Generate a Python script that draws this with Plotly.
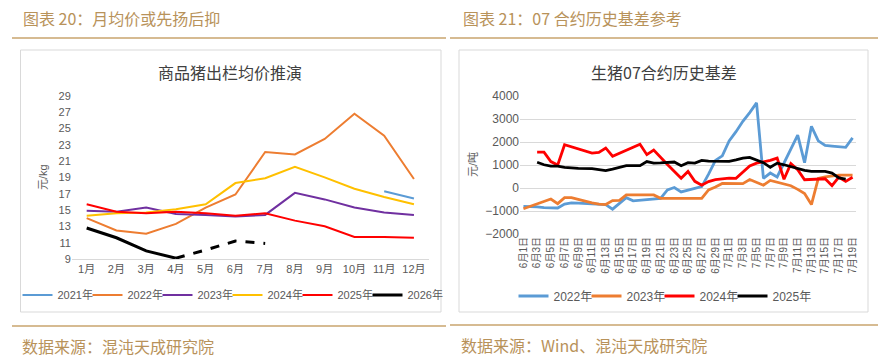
import plotly.graph_objects as go

W, H = 892, 360
FONT = "Liberation Sans, Noto Sans CJK SC, sans-serif"
CJK = "Noto Sans CJK SC, sans-serif"
GOLD = "#b8925a"

# ---------------- Left chart data ----------------
months = ["1月", "2月", "3月", "4月", "5月", "6月", "7月", "8月", "9月", "10月", "11月", "12月"]
y2021 = [None, None, None, None, None, None, None, None, None, None, 17.3, 16.4]
y2022 = [14.0, 12.5, 12.1, 13.3, 15.3, 16.9, 22.1, 21.8, 23.7, 26.8, 24.1, 18.8]
y2023 = [14.9, 14.8, 15.3, 14.5, 14.4, 14.2, 14.4, 17.1, 16.3, 15.3, 14.7, 14.4]
y2024 = [14.3, 14.6, 14.7, 15.1, 15.7, 18.3, 18.9, 20.3, 19.0, 17.6, 16.6, 15.7]
y2025 = [15.7, 14.8, 14.6, 14.8, 14.6, 14.3, 14.6, 13.7, 13.0, 11.7, 11.7, 11.6]
y2026_actual = [12.8, 11.6, 10.0, 9.1]
y2026_forecast_months = ["4月", "5月", "6月", "7月"]
y2026_forecast = [9.1, 10.1, 11.2, 10.9]
left_yticks = [9, 11, 13, 15, 17, 19, 21, 23, 25, 27, 29]

# ---------------- Right chart data ----------------
dates = [f"6月{d}日" for d in range(1, 31)] + [f"7月{d}日" for d in range(1, 20)]
b2022 = [-800, -800, -820, -850, -860, -870, -700, -650, -660, -680,
         -700, -720, -720, -920, -650, -420, -560, -540, -520, -500,
         -450, -80, 20, -170, -100, -20, 60, 600, 1200, 1400,
         2050, 2450, 2900, 3280, 3700, 420, 650, 480, None, None,
         2300, 1100, 2680, 2050, 1850, 1820, 1800, 1770, 2180]
b2023 = [-900, -800, -700, -600, -480, -680, -420, -420, -500, -580,
         -650, -700, -720, -550, -540, -300, -300, -300, -300, -300,
         -450, -450, -450, -450, -450, -450, -450, -80, 40, 200,
         190, 190, 190, 370, 250, 120, 330, 260, 200, 100,
         -60, -240, -720, 420, 480, 530, 560, 560, 560]
b2024 = [None, None, 1560, 1560, 1150, 1000, 1880, None, None, None,
         1520, 1550, 1740, 1380, None, None, None, 1900, 1450, 1650,
         None, 1020, 730, 420, 720, 290, 120, 280, 360, 390,
         430, 420, 700, 960, 1080, None, 1200, 1300, 380, 1060,
         800, 360, None, None, 400, 100, 470, 290, 470]
b2025 = [None, None, 1120, 1010, 950, 950, 900, None, 850, None,
         840, 800, 760, 820, 900, 970, 970, 970, 1150, 1080,
         1090, 1110, 1130, 970, 1100, 1080, 1200, 1170, 1170, 1150,
         1160, 1220, 1300, 1330, 1200, 1100, 900, 1080, 1010, 920,
         840, 770, 720, 720, 720, 650, 440, 390, None]
right_yticks = [-2000, -1000, 0, 1000, 2000, 3000, 4000]

fig = go.Figure()

left_series = [("2021年", y2021, "#5b9bd5"), ("2022年", y2022, "#ed7d31"),
               ("2023年", y2023, "#7030a0"), ("2024年", y2024, "#ffc000"),
               ("2025年", y2025, "#ff0000")]
for name, vals, col in left_series:
    fig.add_trace(go.Scatter(x=months, y=vals, name=name, mode="lines",
                             line=dict(color=col, width=2), xaxis="x", yaxis="y",
                             legend="legend", legendwidth=25))
fig.add_trace(go.Scatter(x=months[:4], y=y2026_actual, name="2026年", mode="lines",
                         line=dict(color="#000000", width=3), xaxis="x", yaxis="y",
                         legend="legend"))
fig.add_trace(go.Scatter(x=y2026_forecast_months, y=y2026_forecast, name="2026年预测",
                         mode="lines", showlegend=False,
                         line=dict(color="#000000", width=3, dash="dash"),
                         xaxis="x", yaxis="y"))

right_series = [("2022年", b2022, "#5b9bd5"), ("2023年", b2023, "#ed7d31"),
                ("2024年", b2024, "#ff0000"), ("2025年", b2025, "#000000")]
for k, (name, vals, col) in enumerate(right_series):
    fig.add_trace(go.Scatter(x=dates, y=vals, name=name, mode="lines", connectgaps=True,
                             line=dict(color=col, width=2.8), xaxis="x2", yaxis="y2",
                             legend="legend2",
                             legendwidth=(28 if k < len(right_series) - 1 else None)))

def px_x(p):
    return p / W

def px_y(p):
    return 1 - p / H

tickfont = dict(family=FONT, size=11, color="#595959")

fig.update_layout(
    width=W, height=H, margin=dict(l=0, r=0, t=0, b=0, autoexpand=False),
    paper_bgcolor="white", plot_bgcolor="white",
    font=dict(family=FONT, color="#595959"),
    xaxis=dict(domain=[px_x(71.8), px_x(428.8)], anchor="y", type="category",
               categoryorder="array", categoryarray=months, range=[-0.5, 11.5],
               showgrid=False, showline=True, linecolor="#d9d9d9", linewidth=1,
               ticks="", tickfont=tickfont, zeroline=False),
    yaxis=dict(domain=[px_y(259), px_y(95.7)], anchor="x", range=[9, 29],
               tickvals=left_yticks, showgrid=False, showline=False, zeroline=False,
               ticks="", tickfont=tickfont),
    xaxis2=dict(domain=[px_x(520), px_x(856)], anchor="y2", type="category",
                categoryorder="array", categoryarray=dates, range=[-0.5, 48.5],
                tickvals=dates[::2], tickangle=-90, showgrid=False, showline=False,
                ticks="", tickfont=dict(family=FONT, size=10, color="#595959"),
                zeroline=False),
    yaxis2=dict(domain=[px_y(234), px_y(96)], anchor="x2", range=[-2000, 4000],
                tickvals=right_yticks, showgrid=True, gridcolor="#d9d9d9", gridwidth=1,
                zeroline=False, ticks="", tickfont=dict(family=FONT, size=12, color="#595959")),
    legend=dict(orientation="h", x=px_x(233), xanchor="center", y=px_y(295),
                yanchor="middle", font=dict(family=FONT, size=11, color="#595959"),
                itemwidth=30, bgcolor="rgba(0,0,0,0)"),
    legend2=dict(orientation="h", x=px_x(665), xanchor="center", y=px_y(296),
                 yanchor="middle", font=dict(family=FONT, size=12, color="#595959"),
                 itemwidth=30, bgcolor="rgba(0,0,0,0)"),
    shapes=[
        dict(type="rect", xref="paper", yref="paper", x0=px_x(20.5), x1=px_x(441),
             y0=px_y(312), y1=px_y(50), line=dict(color="#d9d9d9", width=1)),
        dict(type="rect", xref="paper", yref="paper", x0=px_x(459), x1=px_x(868),
             y0=px_y(312), y1=px_y(50), line=dict(color="#d9d9d9", width=1)),
        dict(type="line", xref="paper", yref="paper", x0=px_x(12), x1=px_x(446),
             y0=px_y(38), y1=px_y(38), line=dict(color="#c8a56e", width=1.5)),
        dict(type="line", xref="paper", yref="paper", x0=px_x(450), x1=px_x(878),
             y0=px_y(38), y1=px_y(38), line=dict(color="#c8a56e", width=1.5)),
        dict(type="line", xref="paper", yref="paper", x0=px_x(12), x1=px_x(446),
             y0=px_y(326), y1=px_y(326), line=dict(color="#c8a56e", width=1.5)),
        dict(type="line", xref="paper", yref="paper", x0=px_x(450), x1=px_x(878),
             y0=px_y(325), y1=px_y(325), line=dict(color="#c8a56e", width=1.5)),
    ],
    annotations=[
        dict(text="图表 20：月均价或先扬后抑", xref="paper", yref="paper",
             x=px_x(21), y=px_y(18), xanchor="left", yanchor="middle", showarrow=False,
             font=dict(family=CJK, size=16, color=GOLD)),
        dict(text="图表 21：07 合约历史基差参考", xref="paper", yref="paper",
             x=px_x(461), y=px_y(18), xanchor="left", yanchor="middle", showarrow=False,
             font=dict(family=CJK, size=16, color=GOLD)),
        dict(text="数据来源：混沌天成研究院", xref="paper", yref="paper",
             x=px_x(20), y=px_y(346), xanchor="left", yanchor="middle", showarrow=False,
             font=dict(family=CJK, size=16, color=GOLD)),
        dict(text="数据来源：Wind、混沌天成研究院", xref="paper", yref="paper",
             x=px_x(459), y=px_y(345), xanchor="left", yanchor="middle", showarrow=False,
             font=dict(family=CJK, size=16, color=GOLD)),
        dict(text="商品猪出栏均价推演", xref="paper", yref="paper",
             x=px_x(230), y=px_y(72), xanchor="center", yanchor="middle", showarrow=False,
             font=dict(family=CJK, size=16, color="#404040")),
        dict(text="生猪07合约历史基差", xref="paper", yref="paper",
             x=px_x(664), y=px_y(72), xanchor="center", yanchor="middle", showarrow=False,
             font=dict(family=CJK, size=16, color="#404040")),
        dict(text="元/kg", xref="paper", yref="paper", textangle=-90,
             x=px_x(43), y=px_y(177), xanchor="center", yanchor="middle", showarrow=False,
             font=dict(family=FONT, size=11, color="#595959")),
        dict(text="元/吨", xref="paper", yref="paper", textangle=-90,
             x=px_x(473), y=px_y(165), xanchor="center", yanchor="middle", showarrow=False,
             font=dict(family=FONT, size=11, color="#595959")),
    ],
)

fig.write_html("out.html", config={"displayModeBar": False},
               post_script="document.body.style.margin='0';document.body.style.padding='0';")
